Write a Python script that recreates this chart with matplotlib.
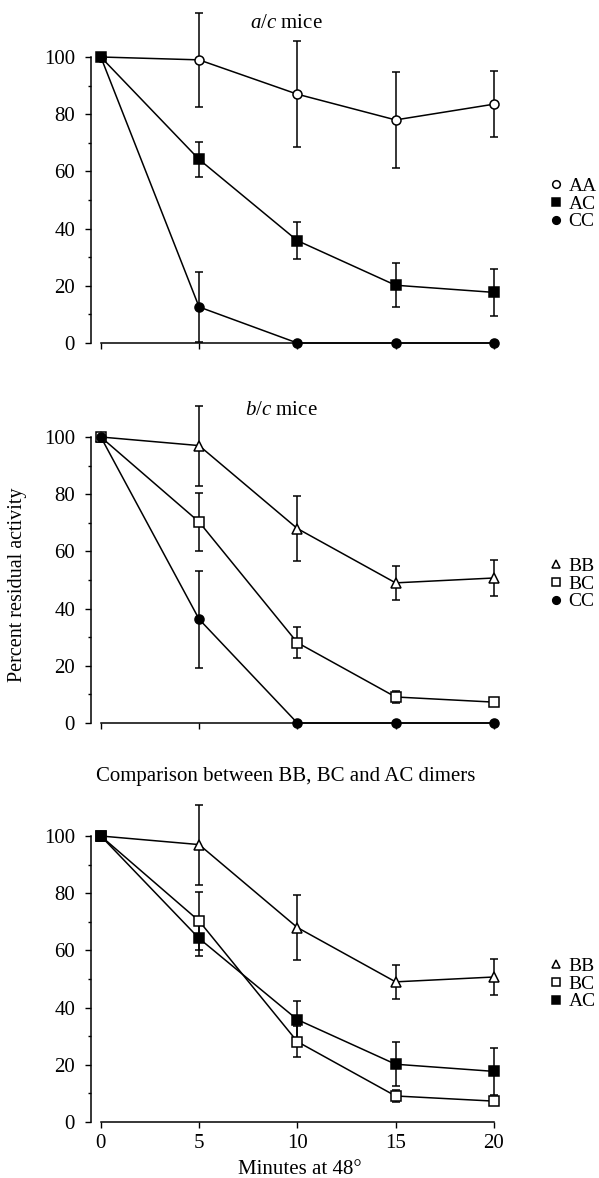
import numpy as np
import matplotlib
matplotlib.use('Agg')
from matplotlib import pyplot as plt
from matplotlib.lines import Line2D

plt.rcParams['font.family'] = ['Liberation Serif', 'DejaVu Serif']
plt.rcParams['mathtext.fontset'] = 'custom'
plt.rcParams['mathtext.rm'] = 'Liberation Serif'
plt.rcParams['mathtext.it'] = 'Liberation Serif:italic'

# minutes at 48 degrees
minutes = [0, 5, 10, 15, 20]

# percent residual activity, mean and error bar half-length
aa_mean = [100, 99, 87, 78, 83.5]
aa_err = [0, 16.5, 18.5, 16.7, 11.5]
ac_mean = [100, 64.2, 35.8, 20.2, 17.7]
ac_err = [0, 6.0, 6.5, 7.6, 8.2]
cc_a_mean = [100, 12.6, 0, 0, 0]
cc_a_err = [0, 12.3, 0, 0, 0]
bb_mean = [100, 97.0, 68.0, 49.0, 50.7]
bb_err = [0, 14.0, 11.5, 6.0, 6.3]
bc_mean = [100, 70.3, 28.1, 9.1, 7.3]
bc_err = [0, 10.0, 5.3, 2.0, 1.5]
cc_b_mean = [100, 36.3, 0, 0, 0]
cc_b_err = [0, 17.0, 0, 0, 0]

yticks = [0, 20, 40, 60, 80, 100]
xticks = [0, 5, 10, 15, 20]

styles = {
    'AA': dict(marker='o', mfc='white', ms=6.5),
    'AC': dict(marker='s', mfc='black', ms=6.5),
    'CC': dict(marker='o', mfc='black', ms=6.5),
    'BB': dict(marker='^', mfc='white', ms=6.5),
    'BC': dict(marker='s', mfc='white', ms=6.5),
}

W, H = 599, 1178
fig = plt.figure(figsize=(W / 100, H / 100), dpi=100)

px_min = 19.65
px_unit = 2.86
x_lo, x_hi = -0.5, 20.6
y_hi = 118
ax_left = 91
ax_w = (x_hi - x_lo) * px_min
ax_h = y_hi * px_unit


def make_axes(zero_px):
    bottom = (H - zero_px) / H
    ax = fig.add_axes([ax_left / W, bottom, ax_w / W, ax_h / H])
    ax.set_xlim(x_lo, x_hi)
    ax.set_ylim(0, y_hi)
    for s in ['top', 'right']:
        ax.spines[s].set_visible(False)
    ax.spines['left'].set_bounds(0, 100)
    ax.spines['bottom'].set_bounds(0, 20)
    ax.spines['left'].set_linewidth(1.1)
    ax.spines['bottom'].set_linewidth(1.1)
    ax.set_yticks(yticks)
    ax.set_yticks([10, 30, 50, 70, 90], minor=True)
    ax.set_xticks(xticks)
    ax.tick_params(axis='both', which='major', length=4, width=1, labelsize=15)
    ax.tick_params(axis='y', which='major', pad=7.5)
    ax.tick_params(axis='x', which='major', pad=5)
    ax.tick_params(axis='y', which='minor', length=2.5, width=1)
    ax.patch.set_visible(False)
    return ax


def draw_series(ax, name, mean, err):
    idx = [i for i in range(len(err)) if err[i] > 0]
    ax.errorbar([minutes[i] for i in idx], [mean[i] for i in idx],
                yerr=[err[i] for i in idx], fmt='none', ecolor='black',
                elinewidth=1.1, capsize=3, capthick=1.1, clip_on=False, zorder=2)
    st = styles[name]
    ax.plot(minutes, mean, color='black', lw=1.1, marker=st['marker'], ms=st['ms'],
            mfc=st['mfc'], mec='black', mew=1.1, clip_on=False, zorder=3)


def add_legend(ax, names, centre_px):
    handles = [Line2D([], [], ls='none', marker=styles[n]['marker'], ms=5.5,
                      mfc=styles[n]['mfc'], mec='black', mew=1.1) for n in names]
    ax.legend(handles, names, loc='center left',
              bbox_to_anchor=(549 / W, (H - centre_px) / H),
              bbox_transform=fig.transFigure, frameon=False, fontsize=14,
              handlelength=0.75, handletextpad=0.25, labelspacing=0.0,
              borderpad=0, borderaxespad=0)


# panel a/c mice
ax1 = make_axes(343)
ax1.set_xticklabels([])
draw_series(ax1, 'AA', aa_mean, aa_err)
draw_series(ax1, 'CC', cc_a_mean, cc_a_err)
draw_series(ax1, 'AC', ac_mean, ac_err)
add_legend(ax1, ['AA', 'AC', 'CC'], 204)
fig.text(286 / W, 1 - 23 / H, r'$a/c$ mice', ha='center', va='center', fontsize=15)

# panel b/c mice
ax2 = make_axes(723)
ax2.set_xticklabels([])
draw_series(ax2, 'BB', bb_mean, bb_err)
draw_series(ax2, 'BC', bc_mean, bc_err)
draw_series(ax2, 'CC', cc_b_mean, cc_b_err)
add_legend(ax2, ['BB', 'BC', 'CC'], 584)
fig.text(281 / W, 1 - 410 / H, r'$b/c$ mice', ha='center', va='center', fontsize=15)
fig.text(18 / W, 1 - 585 / H, 'Percent residual activity', rotation=90,
         ha='center', va='center', fontsize=14.5)

# comparison panel
ax3 = make_axes(1122)
draw_series(ax3, 'BB', bb_mean, bb_err)
draw_series(ax3, 'BC', bc_mean, bc_err)
draw_series(ax3, 'AC', ac_mean, ac_err)
add_legend(ax3, ['BB', 'BC', 'AC'], 984)
fig.text(286 / W, 1 - 776 / H, 'Comparison between BB, BC and AC dimers',
         ha='center', va='center', fontsize=15)
fig.text(300 / W, 1 - 1170 / H, 'Minutes at 48\u00b0', ha='center', va='center', fontsize=15)

fig.savefig('out.png', dpi=100)
